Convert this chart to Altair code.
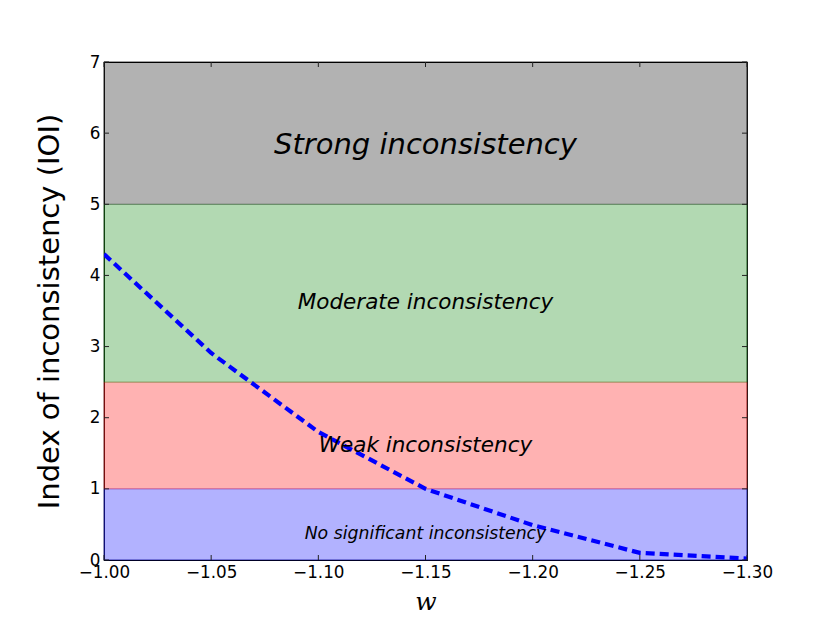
import altair as alt
import pandas as pd

# data
w_vals = [-1.00, -1.05, -1.10, -1.15, -1.20, -1.25, -1.30]
ioi_vals = [4.30, 2.91, 1.80, 1.00, 0.49, 0.10, 0.02]

band_lo = [0.0, 1.0, 2.5, 5.0]
band_hi = [1.0, 2.5, 5.0, 7.0]
band_col = ["#0000ff", "#ff0000", "#008000", "#000000"]

label_text = ["Strong inconsistency", "Moderate inconsistency",
              "Weak inconsistency", "No significant inconsistency"]
label_x = [-1.15, -1.15, -1.15, -1.15]
label_y = [5.83, 3.61, 1.60, 0.37]
label_size = [29, 21.5, 21.5, 17.3]

x_ticks = [-1.00, -1.05, -1.10, -1.15, -1.20, -1.25, -1.30]
y_ticks = [0, 1, 2, 3, 4, 5, 6, 7]

W, H = 643, 498
FONT = "DejaVu Sans"

line_df = pd.DataFrame({"w": w_vals, "ioi": ioi_vals})
band_df = pd.DataFrame({"lo": band_lo, "hi": band_hi, "col": band_col})
lab_df = pd.DataFrame({"t": label_text, "x": label_x, "y": label_y, "s": label_size})
xt_df = pd.DataFrame({"v": x_ticks})
yt_df = pd.DataFrame({"v": y_ticks})

xscale = alt.Scale(domain=[-1.30, -1.00], reverse=True, nice=False)
yscale = alt.Scale(domain=[0, 7], nice=False)

xaxis = alt.Axis(values=x_ticks, format=".2f", title="w", ticks=False, tickSize=0,
                 domain=False, grid=False, labelFont=FONT, labelFontSize=16.8,
                 labelColor="black", labelPadding=4, labelFlush=False, labelOverlap=False,
                 titleFont="DejaVu Serif", titleFontStyle="italic", titleFontWeight="normal",
                 titleFontSize=25, titleColor="black", titleY=49, titleBaseline="alphabetic")
yaxis = alt.Axis(values=y_ticks, format="d", title="Index of inconsistency (IOI)",
                 ticks=False, tickSize=0, domain=False, grid=False, labelFont=FONT,
                 labelFontSize=16.8, labelColor="black", labelPadding=4,
                 labelBaseline="middle", labelFlush=False, labelOverlap=False,
                 titleFont=FONT, titleFontWeight="normal", titleFontSize=29,
                 titleColor="black", titleX=-46, titleY=H / 2,
                 titleAngle=270, titleAlign="center", titleBaseline="alphabetic")

bands = alt.Chart(band_df).mark_rect(fillOpacity=0.3, strokeOpacity=0.3, strokeWidth=1).encode(
    y=alt.Y("lo:Q", scale=yscale, axis=yaxis),
    y2="hi:Q",
    fill=alt.Fill("col:N", scale=None),
    stroke=alt.Stroke("col:N", scale=None),
)

line = alt.Chart(line_df).mark_line(color="#0000ff", strokeWidth=4.2,
                                    strokeDash=[9, 5], clip=True).encode(
    x=alt.X("w:Q", scale=xscale, axis=xaxis),
    y=alt.Y("ioi:Q", scale=yscale),
)

labels = alt.Chart(lab_df).mark_text(font=FONT, fontStyle="italic", color="black",
                                     baseline="middle", align="center").encode(
    x=alt.X("x:Q", scale=xscale),
    y=alt.Y("y:Q", scale=yscale),
    text="t:N",
    size=alt.Size("s:Q", scale=None, legend=None),
)

tcol = "#222222"
xt_bot = alt.Chart(xt_df).mark_rule(color=tcol, strokeWidth=1).encode(
    x=alt.X("v:Q", scale=xscale), y=alt.value(H), y2=alt.value(H - 5))
xt_top = alt.Chart(xt_df).mark_rule(color=tcol, strokeWidth=1).encode(
    x=alt.X("v:Q", scale=xscale), y=alt.value(0), y2=alt.value(5))
yt_left = alt.Chart(yt_df).mark_rule(color=tcol, strokeWidth=1).encode(
    y=alt.Y("v:Q", scale=yscale), x=alt.value(0), x2=alt.value(5))
yt_right = alt.Chart(yt_df).mark_rule(color=tcol, strokeWidth=1).encode(
    y=alt.Y("v:Q", scale=yscale), x=alt.value(W), x2=alt.value(W - 5))

chart = alt.layer(bands, line, labels, xt_bot, xt_top, yt_left, yt_right).properties(
    width=W, height=H,
    autosize=alt.AutoSizeParams(type="none"),
    padding={"left": 96, "top": 54, "right": 75, "bottom": 55},
    background="white",
).configure_view(stroke="black", strokeWidth=1.2)

chart.save("out.html", embed_options={"renderer": "svg", "actions": False})
